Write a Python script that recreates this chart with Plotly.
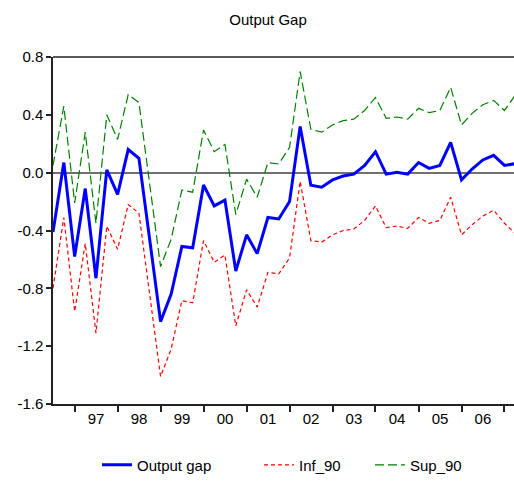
import pandas as pd
import plotly.graph_objects as go

quarters = [f"{y}Q{q}" for y in range(1996, 2008) for q in range(1, 5)][2:46]

output_gap = [-0.41, 0.07, -0.58, -0.11, -0.73, 0.02, -0.15, 0.16, 0.10, -0.47,
              -1.03, -0.84, -0.51, -0.52, -0.085, -0.23, -0.19, -0.68, -0.43, -0.56,
              -0.31, -0.32, -0.20, 0.32, -0.087, -0.10, -0.05, -0.023, -0.01, 0.05,
              0.145, -0.01, 0.003, -0.01, 0.07, 0.03, 0.05, 0.21, -0.05, 0.025,
              0.088, 0.12, 0.05, 0.062]
inf_90 = [-0.80, -0.31, -0.96, -0.49, -1.11, -0.37, -0.53, -0.22, -0.28, -0.83,
          -1.41, -1.22, -0.885, -0.90, -0.47, -0.62, -0.57, -1.06, -0.81, -0.93,
          -0.69, -0.70, -0.59, -0.06, -0.47, -0.48, -0.43, -0.40, -0.39, -0.33,
          -0.23, -0.38, -0.37, -0.385, -0.31, -0.35, -0.33, -0.17, -0.43, -0.36,
          -0.30, -0.26, -0.35, -0.42]
sup_90 = [0.05, 0.46, -0.21, 0.28, -0.35, 0.40, 0.23, 0.54, 0.485, -0.09,
          -0.65, -0.46, -0.12, -0.135, 0.295, 0.145, 0.195, -0.29, -0.045, -0.17,
          0.07, 0.06, 0.175, 0.70, 0.30, 0.28, 0.33, 0.36, 0.37, 0.43,
          0.52, 0.375, 0.385, 0.37, 0.445, 0.415, 0.43, 0.59, 0.33, 0.41,
          0.47, 0.50, 0.43, 0.535]

year_labels = ["97", "98", "99", "00", "01", "02", "03", "04", "05", "06"]
y_ticks = [0.8, 0.4, 0.0, -0.4, -0.8, -1.2, -1.6]

dates = pd.PeriodIndex(quarters, freq="Q").to_timestamp()
label_years = [1997 + i for i in range(len(year_labels))]
label_pos = [f"{y}-07-02" for y in label_years]
tick_pos = [f"{y}-01-01" for y in range(1997, 2008)]

fig = go.Figure()
fig.add_trace(go.Scatter(x=dates, y=sup_90, mode="lines", name="Sup_90",
                         line=dict(color="#008000", width=1.2, dash="9px,4px"),
                         legend="legend3", showlegend=True))
fig.add_trace(go.Scatter(x=dates, y=inf_90, mode="lines", name="Inf_90",
                         line=dict(color="#FF0000", width=1.2, dash="4px,3px"),
                         legend="legend2", showlegend=True))
fig.add_trace(go.Scatter(x=dates, y=output_gap, mode="lines", name="Output gap",
                         line=dict(color="#0000FF", width=3), legend="legend",
                         showlegend=True))

font = dict(family="Liberation Sans, Arial, sans-serif", size=15, color="black")
legend_common = dict(orientation="h", yanchor="middle", y=-0.176, xanchor="left",
                     font=font, bgcolor="rgba(0,0,0,0)", borderwidth=0)

fig.update_layout(
    template="none",
    showlegend=True,
    width=514, height=481,
    margin=dict(l=53, r=0, t=57, b=77, autoexpand=False),
    paper_bgcolor="white", plot_bgcolor="white",
    font=font,
    title=dict(text="Output Gap", x=268 / 514, xanchor="center", y=1 - 20 / 481,
               yanchor="middle", font=dict(family="Liberation Sans, Arial, sans-serif", size=15, color="black")),
    legend=dict(**legend_common, x=(97 - 53) / 461),
    legend2=dict(**legend_common, x=(259 - 53) / 461),
    legend3=dict(**legend_common, x=(370 - 53) / 461),
    xaxis=dict(type="date", range=["1996-07-01", "2007-03-23"],
               tickmode="array", tickvals=label_pos, ticktext=year_labels,
               ticks="", showgrid=False, zeroline=False, automargin=False,
               showline=True, linecolor="#222", linewidth=1.5,
               tickfont=font,
               minor=dict(tickmode="array", tickvals=tick_pos, ticks="outside",
                          ticklen=6, tickwidth=1.5, tickcolor="#222", showgrid=False)),
    yaxis=dict(range=[-1.6, 0.8], tickmode="array", tickvals=y_ticks,
               ticktext=[f"{v:.1f}" for v in y_ticks],
               ticks="outside", ticklen=5, tickwidth=1.5, tickcolor="#222",
               showgrid=False, automargin=False,
               zeroline=True, zerolinecolor="#707070", zerolinewidth=1.5,
               showline=True, linecolor="#222", linewidth=1.5, tickfont=font),
    shapes=[dict(type="line", xref="paper", yref="paper", x0=0, x1=1, y0=1, y1=1,
                 line=dict(color="#222", width=1.5))],
)

fig.write_html("out.html")
